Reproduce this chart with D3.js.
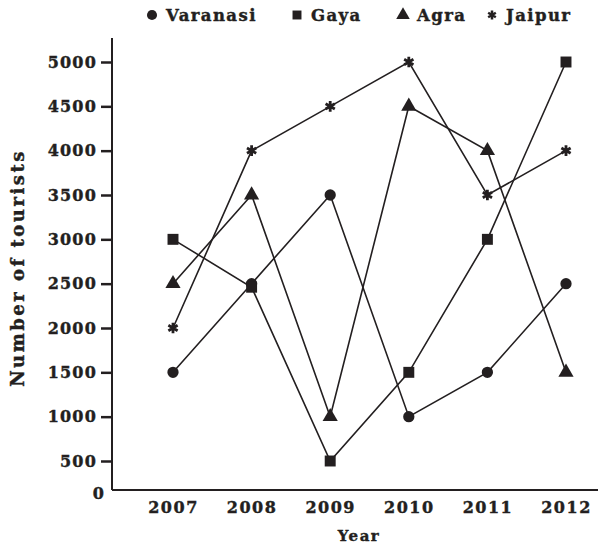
<!DOCTYPE html>
<html><head><meta charset="utf-8">
<script src="https://cdn.jsdelivr.net/npm/d3@7"></script>
<style>body{margin:0;background:#fff}svg{display:block}</style>
</head><body>
<script>
const years = ["2007","2008","2009","2010","2011","2012"];
const varanasi = [1500, 2500, 3500, 1000, 1500, 2500];
const gaya     = [3000, 2460, 500, 1500, 3000, 5000];
const agra     = [2500, 3500, 1000, 4500, 4000, 1500];
const jaipur   = [2000, 4000, 4500, 5000, 3500, 4000];
const yTicks = [500,1000,1500,2000,2500,3000,3500,4000,4500,5000];
const seriesNames = ["Varanasi","Gaya","Agra","Jaipur"];

const W = 598, H = 547, ink = "#231f20";
const font = "'DejaVu Serif', serif";
const svg = d3.select("body").append("svg").attr("width", W).attr("height", H);

function heavy(sel, size, ls) {
  sel.attr("fill", ink).attr("font-family", font).attr("font-weight", "bold")
    .attr("font-size", size).attr("letter-spacing", ls + "px")
    .attr("stroke", ink).attr("stroke-width", 0.4);
}

const axisX0 = 112, axisY0 = 490;
const x = d3.scalePoint().domain(years).range([173, 566]);
const y = d3.scaleLinear().domain([500, 5000]).range([461, 62]);

// axes lines
svg.append("line").attr("x1", axisX0).attr("x2", axisX0).attr("y1", 38).attr("y2", axisY0)
  .attr("stroke", ink).attr("stroke-width", 2);
svg.append("line").attr("x1", axisX0).attr("x2", W).attr("y1", axisY0).attr("y2", axisY0)
  .attr("stroke", ink).attr("stroke-width", 2);

// y ticks
const yAxis = d3.axisLeft(y).tickValues(yTicks).tickSize(11).tickPadding(4).tickFormat(d3.format("d"));
const gy = svg.append("g").attr("transform", `translate(${axisX0},0)`).call(yAxis);
gy.select(".domain").remove();
gy.selectAll(".tick line").attr("stroke", ink).attr("stroke-width", 2.5);
heavy(gy.selectAll(".tick text"), 16, 1.2);
heavy(svg.append("text").attr("x", 104).attr("y", axisY0 + 9).attr("text-anchor", "end").text("0"), 16, 0);

// x tick labels
const xAxis = d3.axisBottom(x).tickSize(0).tickPadding(12);
const gx = svg.append("g").attr("transform", `translate(0,${axisY0})`).call(xAxis);
gx.select(".domain").remove();
heavy(gx.selectAll(".tick text"), 16, 1.5);

// titles
heavy(svg.append("text").attr("x", 359).attr("y", 541).attr("text-anchor", "middle").text("Year"), 15, 1.5);
heavy(svg.append("text").attr("transform", "translate(24,268) rotate(-90)").attr("text-anchor", "middle")
  .text("Number of tourists"), 18, 2.5);

// series
const data = [varanasi, gaya, agra, jaipur];
const symbols = [d3.symbolCircle, d3.symbolSquare, d3.symbolTriangle, d3.symbolAsterisk];
const sizes = [100, 120, 100, 80];
const line = d3.line().x((d, i) => x(years[i])).y(d => y(d));

data.forEach((vals, s) => {
  svg.append("path").attr("d", line(vals)).attr("fill", "none").attr("stroke", ink).attr("stroke-width", 1.6);
});
data.forEach((vals, s) => {
  const sym = d3.symbol().type(symbols[s]).size(sizes[s]);
  svg.selectAll(null).data(vals).enter().append("path")
    .attr("transform", (d, i) => `translate(${x(years[i])},${y(d)})`)
    .attr("d", sym)
    .attr("fill", ink)
    .attr("stroke", s === 3 ? ink : "none")
    .attr("stroke-width", s === 3 ? 2.8 : 0);
});

// legend
const legendX = [152, 297, 403, 492];
seriesNames.forEach((name, s) => {
  const sym = d3.symbol().type(symbols[s]).size(s === 3 ? 55 : 80);
  svg.append("path").attr("transform", `translate(${legendX[s]},15)`).attr("d", sym)
    .attr("fill", ink).attr("stroke", s === 3 ? ink : "none").attr("stroke-width", 2.5);
  heavy(svg.append("text").attr("x", legendX[s] + 14).attr("y", 21).text(name), 16.5, 1.4);
});
</script>
</body></html>
